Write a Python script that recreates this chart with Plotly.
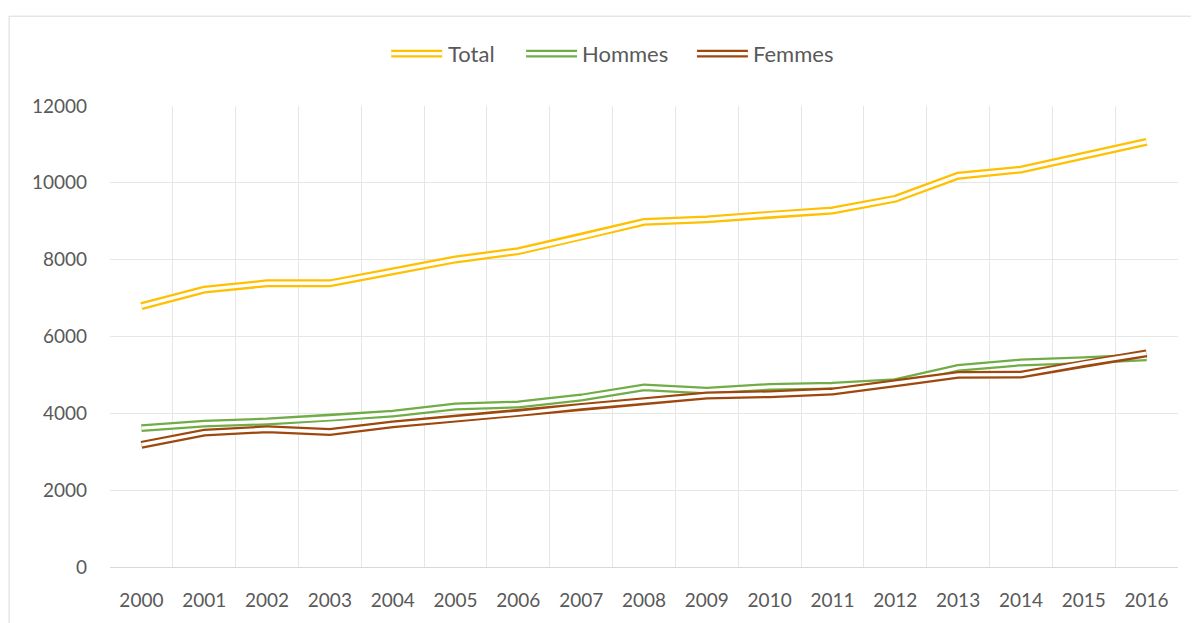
import plotly.graph_objects as go

years = [str(y) for y in range(2000, 2017)]
total = [6790, 7220, 7385, 7385, 7695, 8005, 8220, 8590, 8985, 9050, 9175, 9280, 9585, 10185, 10345, 10710, 11065]
hommes = [3615, 3732, 3787, 3878, 3992, 4177, 4229, 4411, 4675, 4592, 4688, 4719, 4810, 5182, 5325, 5381, 5460]
femmes = [3182, 3498, 3584, 3514, 3714, 3862, 4000, 4174, 4320, 4463, 4498, 4567, 4784, 5000, 5008, 5303, 5563]

series_names = ["Total", "Hommes", "Femmes"]
series_values = [total, hommes, femmes]
series_colors = ["#FFC000", "#70AD47", "#9E480E"]

# page body has an 8px margin; figure sized to fit the window
OFF = 8
W, H = 1199 - OFF, 623 - OFF
# target plot area in screen px: x 109.5..1178.5, y 105.5..567.5
ML = 109.5 - OFF
MT = 105.5 - OFF
MR = (OFF + W) - 1178.5
MB = (OFF + H) - 567.5
PW, PH = W - ML - MR, H - MT - MB

def px_x(p):
    return (p - OFF - ML) / PW

def px_y(p):
    return (OFF + H - MB - p) / PH

OUTER_W = 7.9
INNER_W = 3.4
FONT = "Lato, Carlito, sans-serif"

fig = go.Figure()
for name, vals, col in zip(series_names, series_values, series_colors):
    fig.add_trace(go.Scatter(x=years, y=vals, mode="lines", name=name,
                             line=dict(color=col, width=OUTER_W),
                             showlegend=False, hoverinfo="skip"))
    fig.add_trace(go.Scatter(x=years, y=vals, mode="lines", name=name + " (inner)",
                             line=dict(color="white", width=INNER_W),
                             showlegend=False, hoverinfo="skip"))

# manual legend with double-line symbols
legend_sym = [(391, 442, 449), (526, 577, 583), (697, 748, 754)]
shapes = []
annotations = []
ly = px_y(53)
for (x0, x1, tx), name, col in zip(legend_sym, series_names, series_colors):
    shapes.append(dict(type="line", xref="paper", yref="paper", x0=px_x(x0), x1=px_x(x1),
                       y0=ly, y1=ly, line=dict(color=col, width=OUTER_W)))
    shapes.append(dict(type="line", xref="paper", yref="paper", x0=px_x(x0), x1=px_x(x1),
                       y0=ly, y1=ly, line=dict(color="white", width=INNER_W)))
    annotations.append(dict(text=name, xref="paper", yref="paper", x=px_x(tx - 3), y=ly,
                            xanchor="left", yanchor="middle", showarrow=False,
                            font=dict(family=FONT, size=22, color="#595959")))

# chart area border (partially cut off in reference)
shapes.append(dict(type="rect", xref="paper", yref="paper", x0=px_x(8.5), x1=px_x(1260),
                   y0=px_y(700), y1=px_y(15.5), line=dict(color="#D9D9D9", width=1),
                   fillcolor="rgba(0,0,0,0)", layer="below"))

fig.update_layout(
    width=W, height=H,
    margin=dict(l=ML, r=MR, t=MT, b=MB, pad=0),
    paper_bgcolor="white", plot_bgcolor="white",
    showlegend=False,
    hovermode=False,
    shapes=shapes,
    annotations=annotations,
    font=dict(family=FONT, size=19, color="#595959"),
)
fig.update_xaxes(type="category", range=[-0.5, 16.5], tickson="boundaries",
                 showgrid=True, gridcolor="#E6E6E6", gridwidth=1,
                 showline=True, linecolor="#D9D9D9", linewidth=1,
                 ticks="", ticklabelstandoff=16,
                 tickfont=dict(family=FONT, size=19, color="#595959"))
fig.update_yaxes(range=[0, 12000], dtick=2000, tick0=0, tickformat="d",
                 showgrid=True, gridcolor="#E6E6E6", gridwidth=1,
                 zeroline=False, showline=False, ticks="", ticklabelstandoff=22,
                 tickfont=dict(family=FONT, size=19, color="#595959"))

fig.write_html("out.html")
